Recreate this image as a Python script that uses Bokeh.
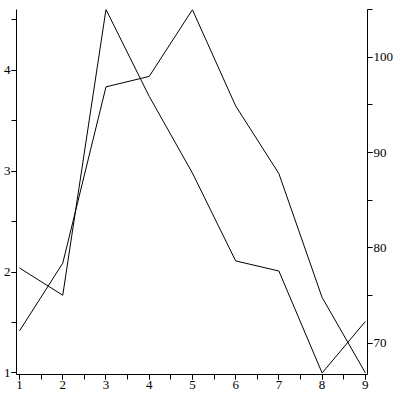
from bokeh.plotting import figure
from bokeh.models import LinearAxis, Range1d, SingleIntervalTicker
from bokeh.embed import file_html
from bokeh.resources import INLINE

x_vals = [1, 2, 3, 4, 5, 6, 7, 8, 9]
series_left = [2.04, 1.77, 4.6, 3.74, 2.98, 2.11, 2.01, 1.0, 1.51]
series_right = [71.3, 78.4, 96.9, 98.0, 105.0, 94.9, 87.8, 74.8, 66.9]

FONT = "Liberation Serif"
FSIZE = "13px"

p = figure(frame_width=351, frame_height=365, output_backend="svg",
           toolbar_location=None, x_range=Range1d(0.93, 9.05),
           y_range=Range1d(0.985, 4.6),
           min_border_left=2, min_border_right=0, min_border_top=9,
           min_border_bottom=0)
p.extra_y_ranges = {"right": Range1d(66.72, 105.02)}
p.outline_line_color = None
p.xgrid.visible = False
p.ygrid.visible = False
p.background_fill_color = "white"
p.border_fill_color = "white"

p.line(x_vals, series_left, line_color="black", line_width=1)
p.line(x_vals, series_right, line_color="black", line_width=1, y_range_name="right")

right_axis = LinearAxis(y_range_name="right",
                        ticker=SingleIntervalTicker(interval=10, num_minor_ticks=2))
p.add_layout(right_axis, "right")

p.xaxis[0].ticker = SingleIntervalTicker(interval=1, num_minor_ticks=2)
p.yaxis[0].ticker = SingleIntervalTicker(interval=1, num_minor_ticks=2)

for ax in [p.xaxis[0], p.yaxis[0], right_axis]:
    ax.axis_line_color = "black"
    ax.axis_line_width = 1
    ax.major_tick_line_color = "black"
    ax.minor_tick_line_color = "black"
    ax.major_tick_in = 0
    ax.major_tick_out = 5
    ax.minor_tick_in = 0
    ax.minor_tick_out = 5
    ax.major_label_text_font = FONT
    ax.major_label_text_font_size = FSIZE
    ax.major_label_text_color = "black"
    ax.major_label_standoff = 1

open("out.html", "w").write(file_html(p, INLINE))
